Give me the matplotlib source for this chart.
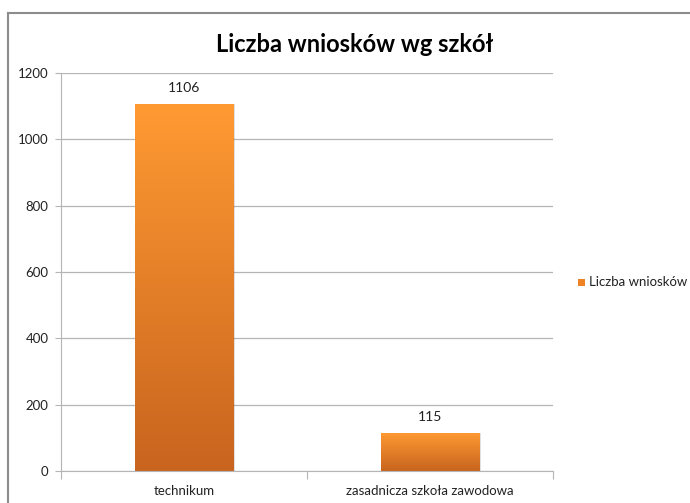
import matplotlib
matplotlib.use("Agg")
import matplotlib.pyplot as plt
import numpy as np
from matplotlib.colors import LinearSegmentedColormap
from matplotlib.patches import Rectangle
from matplotlib.lines import Line2D

categories = ["technikum", "zasadnicza szkoła zawodowa"]
values = [1106, 115]
series_name = "Liczba wniosków"
title = "Liczba wniosków wg szkół"
yticks = [0, 200, 400, 600, 800, 1000, 1200]

plt.rcParams['font.family'] = ['Lato', 'DejaVu Sans']

W, H = 690, 503
fig = plt.figure(figsize=(W / 100, H / 100), dpi=100)
fig.patch.set_facecolor("white")

# chart frame
fig.add_artist(Line2D([8 / W, 8 / W], [0, 1 - 12.5 / H], color="#8c8c8c", lw=1.5))
fig.add_artist(Line2D([8 / W, 1.0], [1 - 12.5 / H, 1 - 12.5 / H], color="#8c8c8c", lw=1.5))

left, right, top, bottom = 61, 553, 73, 471
ax = fig.add_axes([left / W, 1 - bottom / H, (right - left) / W, (bottom - top) / H])
ax.set_xlim(0, 2)
ax.set_ylim(0, 1200)
ax.set_yticks(yticks)
ax.set_yticklabels([str(t) for t in yticks], fontsize=9.5, color="#222222")
ax.yaxis.grid(True, color="#b5b5b5", lw=0.9)
ax.set_axisbelow(True)
for s in ["top", "right"]:
    ax.spines[s].set_visible(False)
ax.spines["left"].set_color("#b5b5b5")
ax.spines["bottom"].set_color("#b5b5b5")
ax.tick_params(axis="y", length=4, color="#b5b5b5", pad=5)
ax.set_xticks([0, 1, 2])
ax.set_xticklabels([])
ax.tick_params(axis="x", length=6, color="#b5b5b5")
centers = np.arange(len(categories)) + 0.5
for c, lab in zip(centers, categories):
    ax.text(c, -0.035, lab, transform=ax.get_xaxis_transform(), ha="center", va="top",
            fontsize=9.5, color="#222222")

cmap = LinearSegmentedColormap.from_list("og", ["#C8641E", "#FF9A33"])
grad = np.linspace(0, 1, 256).reshape(-1, 1)
bw = 0.4
bars = ax.bar(centers, values, width=bw, color="#F08A2A", zorder=2, label=series_name)
for b, v, c in zip(bars, values, centers):
    sh = Rectangle((b.get_x() + 0.006, 0), bw, v, facecolor="#000000", alpha=0.12, zorder=1.5,
                   edgecolor="none")
    ax.add_patch(sh)
    im = ax.imshow(grad, extent=[b.get_x(), b.get_x() + bw, 0, v], origin="lower",
                   cmap=cmap, aspect="auto", zorder=2.5)
    im.set_clip_path(b)
    ax.text(c, v + 30, str(v), ha="center", va="bottom", fontsize=10, color="#222222")
ax.set_xlim(0, 2)
ax.set_ylim(0, 1200)

fig.text(355 / W, 1 - 44 / H, title, ha="center", va="center", fontsize=17,
         fontweight="bold", color="black")

# legend
fig.add_artist(Rectangle((578 / W, 1 - 286 / H), 7 / W, 7 / H, facecolor="#EE8426",
                         edgecolor="none", transform=fig.transFigure))
fig.text(589 / W, 1 - 282.5 / H, series_name, ha="left", va="center", fontsize=9.5,
         color="#222222")

fig.savefig("out.png", dpi=100)
